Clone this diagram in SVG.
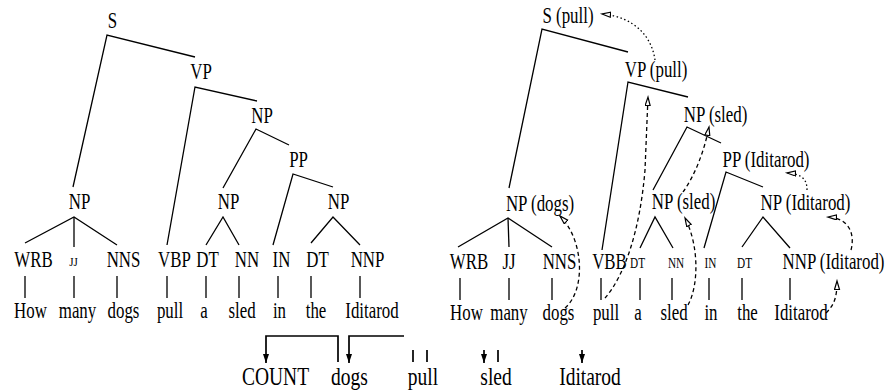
<svg xmlns="http://www.w3.org/2000/svg" width="889" height="392" viewBox="0 0 889 392">
<style>
.t{font-family:"Liberation Serif","Times New Roman",Times,"DejaVu Serif",serif;font-size:22.5px;fill:#000;text-anchor:middle}
.s{font-size:15px}
.j{font-size:13px}
.b{font-size:26px}
.l{fill:none;stroke:#000;stroke-width:1.3}
.d{stroke-dasharray:4 3}
.o{stroke-dasharray:1.5 2.5}
.k{fill:none;stroke:#000;stroke-width:1.7}
</style>
<defs>
<marker id="open" markerUnits="userSpaceOnUse" markerWidth="12" markerHeight="10" refX="9" refY="3" orient="auto">
<path d="M0.5,0.5 L9,3 L0.5,5.5 z" fill="#fff" stroke="#000" stroke-width="1.2"/>
</marker>
<marker id="fill" markerUnits="userSpaceOnUse" markerWidth="12" markerHeight="10" refX="9" refY="3" orient="auto">
<path d="M0,0 L9,3 L0,6 z" fill="#000"/>
</marker>
</defs>
<rect width="889" height="392" fill="#fff"/>

<g id="connectors">
<polyline class="l" points="73,187 107,35 195,57"/>
<polyline class="l" points="167,245 195,87 257,101"/>
<polyline class="l" points="223,188 256,129 289,145"/>
<polyline class="l" points="273,245 293,174 333,187"/>
<polyline class="l" points="25,243 74,217 117,245"/>
<line class="l" x1="74" y1="217" x2="74" y2="247"/>
<polyline class="l" points="206,245 223,217 239,245"/>
<polyline class="l" points="311,243 333,217 360,245"/>
<path class="l" d="M25,276V298M74,276V298M117,276V298M167,276V298M206,276V298M239,276V298M278,276V298M311,276V298M360,276V298"/>
<polyline class="l" points="509,188 542,29 628,52"/>
<polyline class="l" points="602,250 628,82 688,97"/>
<polyline class="l" points="653,190 687,127 721,143"/>
<polyline class="l" points="704,248 726,172 763,187"/>
<polyline class="l" points="458,247 508,218 552,247"/>
<line class="l" x1="508" y1="218" x2="509" y2="247"/>
<polyline class="l" points="640,248 655,217 673,248"/>
<polyline class="l" points="742,247 763,217 790,248"/>
<path class="l" d="M460,278V300M509,278V300M552,278V300M601,278V300M640,278V300M672,278V300M709,278V300M742,278V300M790,278V300"/>
<path class="l o" d="M655,60 C652,38 636,17 602,14" marker-end="url(#open)"/>
<path class="l d" d="M605,298 C625,275 640,230 645,170 L648,97" marker-end="url(#open)"/>
<path class="l d" d="M683,192 C695,175 704,152 709,127" marker-end="url(#open)"/>
<path class="l d" d="M688,305 C699,285 699,245 685,218" marker-end="url(#open)"/>
<path class="l d" d="M565,308 C586,290 584,240 560,216" marker-end="url(#open)"/>
<path class="l o" d="M807,190 C807,180 803,174 787,173" marker-end="url(#open)"/>
<path class="l d" d="M851,250 C855,235 850,218 828,217" marker-end="url(#open)"/>
<path class="l d" d="M826,313 C834,305 837,298 837,281" marker-end="url(#open)"/>
<polyline class="k" points="338,362 338,336 266,336 266,363" marker-end="url(#fill)"/>
<polyline class="k" points="404,336 349,336 349,363" marker-end="url(#fill)"/>
<path class="k" d="M413,350V362M427,350V362M498,350V362"/>
<line class="k" x1="484" y1="350" x2="484" y2="363" marker-end="url(#fill)"/>
<line class="k" x1="582" y1="350" x2="582" y2="363" marker-end="url(#fill)"/>
</g>

<g id="left-tree">
<g id="l-S"><text class="t" transform="translate(112.5,28) scale(0.75,1)">S</text></g>
<g id="l-VP"><text class="t" transform="translate(201,79) scale(0.75,1)">VP</text></g>
<g id="l-NP1"><text class="t" transform="translate(262,123) scale(0.75,1)">NP</text></g>
<g id="l-PP"><text class="t" transform="translate(298.5,167) scale(0.75,1)">PP</text></g>
<g id="l-NP2"><text class="t" transform="translate(79.5,209) scale(0.75,1)">NP</text></g>
<g id="l-NP3"><text class="t" transform="translate(228.5,209) scale(0.75,1)">NP</text></g>
<g id="l-NP4"><text class="t" transform="translate(338.5,209) scale(0.75,1)">NP</text></g>
<g id="l-WRB"><text class="t" transform="translate(33.5,267) scale(0.75,1)">WRB</text></g>
<g id="l-JJ"><text class="t j" transform="translate(73.5,266) scale(0.85,1)">JJ</text></g>
<g id="l-NNS"><text class="t" transform="translate(123.5,267) scale(0.75,1)">NNS</text></g>
<g id="l-VBP"><text class="t" transform="translate(174.5,267) scale(0.75,1)">VBP</text></g>
<g id="l-DT1"><text class="t" transform="translate(207.5,267) scale(0.75,1)">DT</text></g>
<g id="l-NN"><text class="t" transform="translate(247,267) scale(0.75,1)">NN</text></g>
<g id="l-IN"><text class="t" transform="translate(281.5,267) scale(0.75,1)">IN</text></g>
<g id="l-DT2"><text class="t" transform="translate(317.5,267) scale(0.75,1)">DT</text></g>
<g id="l-NNP"><text class="t" transform="translate(367.5,267) scale(0.75,1)">NNP</text></g>
<g id="l-w1"><text class="t" transform="translate(30.5,318) scale(0.75,1)">How</text></g>
<g id="l-w2"><text class="t" transform="translate(77.5,318) scale(0.75,1)">many</text></g>
<g id="l-w3"><text class="t" transform="translate(123.5,318) scale(0.75,1)">dogs</text></g>
<g id="l-w4"><text class="t" transform="translate(170,318) scale(0.75,1)">pull</text></g>
<g id="l-w5"><text class="t" transform="translate(204,318) scale(0.75,1)">a</text></g>
<g id="l-w6"><text class="t" transform="translate(242,318) scale(0.75,1)">sled</text></g>
<g id="l-w7"><text class="t" transform="translate(279.5,318) scale(0.75,1)">in</text></g>
<g id="l-w8"><text class="t" transform="translate(316,318) scale(0.75,1)">the</text></g>
<g id="l-w9"><text class="t" transform="translate(372,318) scale(0.75,1)">Iditarod</text></g>
</g>

<g id="right-tree">
<g id="r-S"><text class="t" transform="translate(568,23) scale(0.75,1)">S (pull)</text></g>
<g id="r-VP"><text class="t" transform="translate(656,77) scale(0.75,1)">VP (pull)</text></g>
<g id="r-NP1"><text class="t" transform="translate(715.5,122) scale(0.75,1)">NP (sled)</text></g>
<g id="r-PP"><text class="t" transform="translate(766,167) scale(0.75,1)">PP (Iditarod)</text></g>
<g id="r-NP2"><text class="t" transform="translate(540,211) scale(0.75,1)">NP (dogs)</text></g>
<g id="r-NP3"><text class="t" transform="translate(683.5,209) scale(0.75,1)">NP (sled)</text></g>
<g id="r-NP4"><text class="t" transform="translate(805.5,210) scale(0.75,1)">NP (Iditarod)</text></g>
<g id="r-WRB"><text class="t" transform="translate(469,269) scale(0.75,1)">WRB</text></g>
<g id="r-JJ"><text class="t" transform="translate(509,269) scale(0.75,1)">JJ</text></g>
<g id="r-NNS"><text class="t" transform="translate(559.5,269) scale(0.75,1)">NNS</text></g>
<g id="r-VBB"><text class="t" transform="translate(609.5,269) scale(0.75,1)">VBB</text></g>
<g id="r-DT1"><text class="t s" transform="translate(637.5,268) scale(0.75,1)">DT</text></g>
<g id="r-NN"><text class="t s" transform="translate(676,268) scale(0.75,1)">NN</text></g>
<g id="r-IN"><text class="t s" transform="translate(710.5,268) scale(0.75,1)">IN</text></g>
<g id="r-DT2"><text class="t s" transform="translate(744.5,268) scale(0.75,1)">DT</text></g>
<g id="r-NNP"><text class="t" transform="translate(833.5,269) scale(0.75,1)">NNP (Iditarod)</text></g>
<g id="r-w1"><text class="t" transform="translate(466.5,320) scale(0.75,1)">How</text></g>
<g id="r-w2"><text class="t" transform="translate(509,320) scale(0.75,1)">many</text></g>
<g id="r-w3"><text class="t" transform="translate(558.5,320) scale(0.75,1)">dogs</text></g>
<g id="r-w4"><text class="t" transform="translate(606,320) scale(0.75,1)">pull</text></g>
<g id="r-w5"><text class="t" transform="translate(638,320) scale(0.75,1)">a</text></g>
<g id="r-w6"><text class="t" transform="translate(674,320) scale(0.75,1)">sled</text></g>
<g id="r-w7"><text class="t" transform="translate(711,320) scale(0.75,1)">in</text></g>
<g id="r-w8"><text class="t" transform="translate(747.5,320) scale(0.75,1)">the</text></g>
<g id="r-w9"><text class="t" transform="translate(801,320) scale(0.75,1)">Iditarod</text></g>
</g>

<g id="bottom">
<g id="b-count"><text class="t b" transform="translate(275.5,385) scale(0.75,1)">COUNT</text></g>
<g id="b-dogs"><text class="t b" transform="translate(349.5,385) scale(0.75,1)">dogs</text></g>
<g id="b-pull"><text class="t b" transform="translate(423,385) scale(0.75,1)">pull</text></g>
<g id="b-sled"><text class="t b" transform="translate(496,385) scale(0.75,1)">sled</text></g>
<g id="b-iditarod"><text class="t b" transform="translate(590,385) scale(0.75,1)">Iditarod</text></g>
</g>
</svg>
